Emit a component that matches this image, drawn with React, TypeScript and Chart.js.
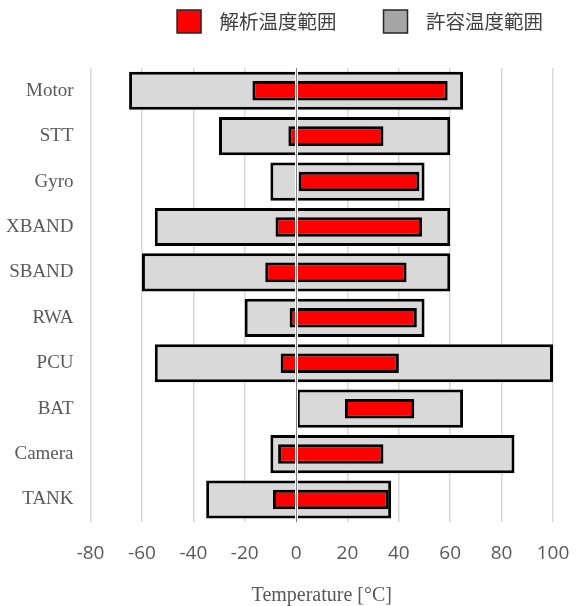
import React, { useEffect, useRef } from "react";
import { Chart, registerables } from "chart.js";

Chart.register(...registerables);

const categories = ["Motor", "STT", "Gyro", "XBAND", "SBAND", "RWA", "PCU", "BAT", "Camera", "TANK"];
const analysisMin = [-17, -3, 1, -8, -12, -2.5, -6, 19, -7, -9];
const analysisMax = [59, 34, 48, 49, 43, 47, 40, 46, 34, 36];
const allowedMin = [-65, -30, -10, -55, -60, -20, -55, 0, -10, -35];
const allowedMax = [65, 60, 50, 60, 60, 50, 100, 65, 85, 37];
const seriesNames = ["解析温度範囲", "許容温度範囲"];
const axisMin = -80;
const axisMax = 100;
const axisStep = 20;
const axisTitle = "Temperature [°C]";

const legendSpacer = {
  id: "legendSpacer",
  afterInit(chart: any) {
    const lg = chart.legend;
    if (lg && !lg.__spaced) {
      const orig = lg.fit;
      lg.fit = function () {
        orig.call(this);
        this.height += 25;
      };
      lg.__spaced = true;
    }
  },
};

const zeroLine = {
  id: "zeroLine",
  afterDatasetsDraw(chart: any) {
    const { ctx, chartArea, scales } = chart;
    const x = Math.round(scales.x.getPixelForValue(0)) + 0.5;
    ctx.save();
    ctx.beginPath();
    ctx.strokeStyle = "#ffffff";
    ctx.lineWidth = 3;
    ctx.moveTo(x, chartArea.top);
    ctx.lineTo(x, chartArea.bottom);
    ctx.stroke();
    ctx.beginPath();
    ctx.strokeStyle = "#808080";
    ctx.lineWidth = 1;
    ctx.moveTo(x, chartArea.top);
    ctx.lineTo(x, chartArea.bottom);
    ctx.stroke();
    ctx.restore();
  },
};

export default function App() {
  const ref = useRef<HTMLCanvasElement | null>(null);
  useEffect(() => {
    if (!ref.current) return;
    const chart = new Chart(ref.current, {
      type: "bar",
      data: {
        labels: categories,
        datasets: [
          {
            label: seriesNames[0],
            data: categories.map((_, i) => [analysisMin[i], analysisMax[i]]),
            backgroundColor: "#ff0000",
            borderColor: "#000000",
            borderWidth: 3,
            borderSkipped: false,
            barPercentage: 0.43,
            categoryPercentage: 1,
            grouped: false,
          },
          {
            label: seriesNames[1],
            data: categories.map((_, i) => [allowedMin[i], allowedMax[i]]),
            backgroundColor: "#d9d9d9",
            borderColor: "#000000",
            borderWidth: 3,
            borderSkipped: false,
            barPercentage: 0.84,
            categoryPercentage: 1,
            grouped: false,
          },
        ] as any,
      },
      options: {
        indexAxis: "y",
        animation: false,
        responsive: true,
        maintainAspectRatio: false,
        layout: { padding: { left: 6, right: 26, top: 0, bottom: 0 } },
        plugins: {
          tooltip: { enabled: false },
          legend: {
            position: "top",
            align: "end",
            fullSize: false,
            labels: {
              font: { family: "'Noto Sans CJK JP', 'Noto Sans', sans-serif", size: 19.5 },
              color: "#404040",
              boxWidth: 24,
              boxHeight: 23,
              padding: 10,
              generateLabels: () => [
                {
                  text: "  " + seriesNames[0] + "\u3000    ",
                  fillStyle: "#ff0000",
                  strokeStyle: "#262626",
                  lineWidth: 1.5,
                  hidden: false,
                  datasetIndex: 0,
                  fontColor: "#404040",
                },
                {
                  text: "  " + seriesNames[1],
                  fillStyle: "#a6a6a6",
                  strokeStyle: "#262626",
                  lineWidth: 1.5,
                  hidden: false,
                  datasetIndex: 1,
                  fontColor: "#404040",
                },
              ],
            },
          },
        },
        scales: {
          x: {
            type: "linear",
            min: axisMin,
            max: axisMax,
            ticks: {
              stepSize: axisStep,
              color: "#595959",
              font: { family: "'Open Sans', sans-serif", size: 19 },
              padding: 20,
            },
            grid: { color: "#d9d9d9", lineWidth: 1.5, drawTicks: false },
            border: { display: false },
            title: {
              display: true,
              text: axisTitle,
              color: "#595959",
              font: { family: "'Liberation Serif', 'Times New Roman', serif", size: 20, lineHeight: 1 },
              padding: { top: 21, bottom: 0 },
            },
            afterFit(scale: any) {
              const p = scale.options.ticks.padding;
              scale.height -= p;
              scale.paddingLeft = Math.max(scale.paddingLeft - p, 0);
              scale.paddingRight = Math.max(scale.paddingRight - p, 0);
            },
          },
          y: {
            type: "category",
            ticks: {
              color: "#595959",
              font: { family: "'Liberation Serif', 'Times New Roman', serif", size: 19 },
              padding: 17,
            },
            grid: { display: false, drawTicks: false },
            border: { display: false },
            afterFit(scale: any) {
              scale.width -= scale.options.ticks.padding;
            },
          },
        },
      },
      plugins: [legendSpacer, zeroLine],
    });
    return () => chart.destroy();
  }, []);
  return (
    <div style={{ position: "fixed", left: 0, top: 0, width: 579, height: 606, background: "#fff" }}>
      <canvas ref={ref} />
    </div>
  );
}
